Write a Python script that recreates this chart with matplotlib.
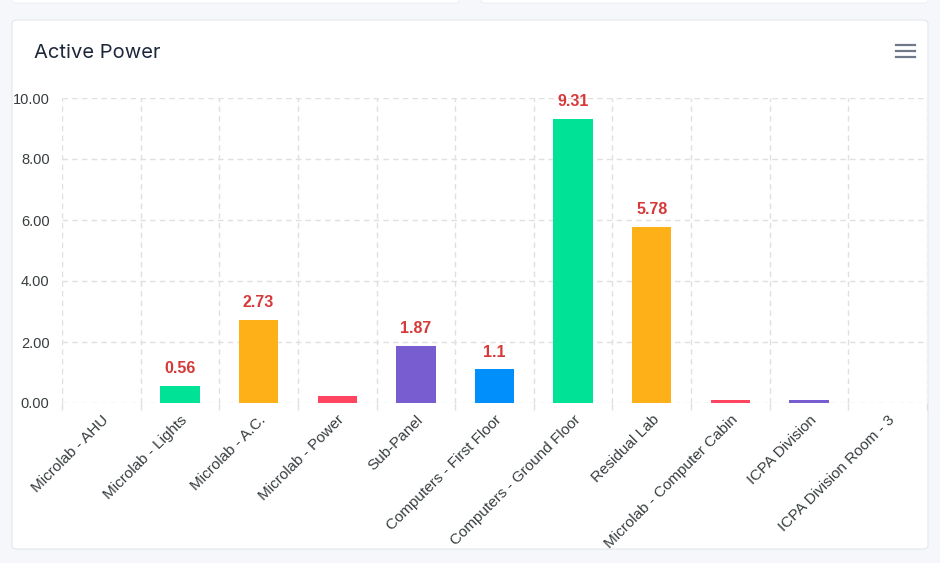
import matplotlib
matplotlib.use('Agg')
import matplotlib.pyplot as plt
from matplotlib.patches import FancyBboxPatch
from matplotlib.lines import Line2D

# data
categories = ["Microlab - AHU", "Microlab - Lights", "Microlab - A.C.", "Microlab - Power",
              "Sub-Panel", "Computers - First Floor", "Computers - Ground Floor", "Residual Lab",
              "Microlab - Computer Cabin", "ICPA Division", "ICPA Division Room - 3"]
values = [0, 0.56, 2.73, 0.24, 1.87, 1.1, 9.31, 5.78, 0.1, 0.1, 0]
value_labels = ["", "0.56", "2.73", "", "1.87", "1.1", "9.31", "5.78", "", "", ""]
yticks = [0, 2, 4, 6, 8, 10]

palette = ['#008FFB', '#00E396', '#FEB019', '#FF4560', '#775DD0']
colors = [palette[i % len(palette)] for i in range(len(categories))]

W, H = 940, 563
fig = plt.figure(figsize=(W / 100, H / 100), dpi=100)
fig.patch.set_facecolor('#f5f7fb')

# card behind the chart
card = FancyBboxPatch((12 / W, 1 - 549 / H), 916 / W, 529 / H,
                      boxstyle="round,pad=0,rounding_size=0.006",
                      transform=fig.transFigure, facecolor='white',
                      edgecolor='#e3e6ea', linewidth=0.8, zorder=0)
fig.add_artist(card)
# bottoms of the cards above
for x0, x1 in [(12, 459), (481, 928)]:
    fig.add_artist(FancyBboxPatch((x0 / W, 1 - 3 / H), (x1 - x0) / W, 10 / H,
                                  boxstyle="round,pad=0,rounding_size=0.004",
                                  transform=fig.transFigure, facecolor='white',
                                  edgecolor='#e9ecf0', linewidth=0.6, zorder=0))

fig.text(34 / W, 1 - 53 / H, "Active Power", fontsize=14.5, color='#1d273b',
         family='Inter', va='center', ha='left')

# hamburger menu icon
for yy in [45, 51, 56.5]:
    fig.add_artist(Line2D([896 / W, 915 / W], [1 - yy / H, 1 - yy / H],
                          transform=fig.transFigure, color='#6e7a8a', linewidth=1.6))

ax = fig.add_axes([62 / W, 1 - 403 / H, 865 / W, 305 / H])
ax.set_facecolor('none')
x = list(range(len(categories)))
bars = ax.bar(x, values, width=0.5, color=colors, zorder=3)

for b, lab in zip(bars, value_labels):
    if lab:
        ax.annotate(lab, (b.get_x() + b.get_width() / 2, b.get_height()),
                    xytext=(0, 7), textcoords='offset points', ha='center', va='bottom',
                    fontsize=11.5, fontweight='bold', color='#d63939',
                    family='Liberation Sans', zorder=4)

ax.set_xlim(-0.5, len(categories) - 0.5)
ax.set_ylim(0, 10)
ax.set_yticks(yticks)
ax.set_yticklabels([f"{v:.2f}" for v in yticks], fontsize=10.5, color='#373d3f',
                   family='Liberation Sans')
ax.tick_params(axis='y', length=0, pad=9)

ax.set_xticks(x)
ax.set_xticklabels(categories, rotation=45, ha='right', rotation_mode='anchor',
                   fontsize=11, color='#373d3f', family='Liberation Sans')
ax.tick_params(axis='x', which='major', length=0, pad=7)
bounds = [i - 0.5 for i in range(len(categories) + 1)]
ax.set_xticks(bounds, minor=True)
ax.tick_params(axis='x', which='minor', length=5, color='#e0e0e0', width=1)

ax.grid(True, which='major', axis='y', linestyle=(0, (4, 3)), color='#e0e0e0', linewidth=1, zorder=0)
ax.grid(True, which='minor', axis='x', linestyle=(0, (4, 3)), color='#e0e0e0', linewidth=1, zorder=0)
for s in ax.spines.values():
    s.set_visible(False)

fig.savefig("out.png", dpi=100, facecolor=fig.get_facecolor())
